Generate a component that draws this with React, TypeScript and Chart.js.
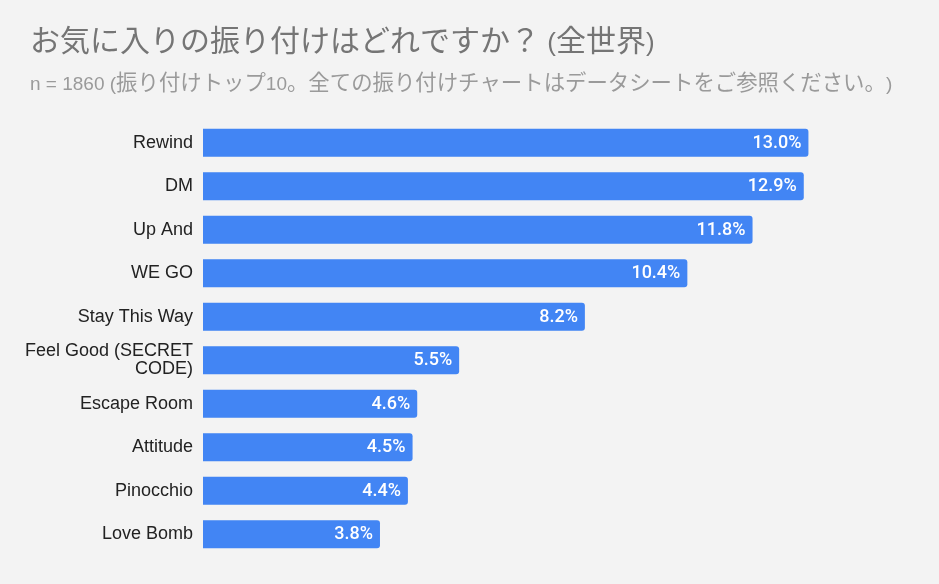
import React, { useEffect, useRef } from "react";
import { Chart, registerables } from "chart.js";

Chart.register(...registerables);

const TITLE = "お気に入りの振り付けはどれですか？ (全世界)";
const SUBTITLE =
  "n = 1860 (振り付けトップ10。全ての振り付けチャートはデータシートをご参照ください。)";

const categories: (string | string[])[] = [
  "Rewind",
  "DM",
  "Up And",
  "WE GO",
  "Stay This Way",
  ["Feel Good (SECRET", "CODE)"],
  "Escape Room",
  "Attitude",
  "Pinocchio",
  "Love Bomb",
];

const shares = [13.0, 12.9, 11.8, 10.4, 8.2, 5.5, 4.6, 4.5, 4.4, 3.8];

const X_MAX = 14;

const CJK_RUN = /([\u3000-\u30ff\u4e00-\u9fff\uff00-\uffef]+)/;
const CJK_TEST = /[\u3000-\u30ff\u4e00-\u9fff\uff00-\uffef]/;

function drawMixed(
  ctx: CanvasRenderingContext2D,
  text: string,
  x: number,
  y: number,
  latinFont: string,
  cjkFont: string
) {
  const parts = text.split(CJK_RUN);
  let cx = x;
  for (const p of parts) {
    if (!p) continue;
    ctx.font = CJK_TEST.test(p) ? cjkFont : latinFont;
    ctx.fillText(p, cx, y);
    cx += ctx.measureText(p).width;
  }
}

const backgroundPlugin = {
  id: "bgFill",
  beforeDraw(chart: any) {
    const ctx = chart.ctx as CanvasRenderingContext2D;
    ctx.save();
    ctx.fillStyle = "#f3f3f3";
    ctx.fillRect(0, 0, chart.width, chart.height);
    ctx.restore();
  },
};

const headerPlugin = {
  id: "header",
  afterDraw(chart: any) {
    const ctx = chart.ctx as CanvasRenderingContext2D;
    ctx.save();
    ctx.textAlign = "left";
    ctx.textBaseline = "alphabetic";
    ctx.fillStyle = "#757575";
    drawMixed(
      ctx,
      TITLE,
      30,
      51,
      "26px 'Liberation Sans', Arial, sans-serif",
      "30px 'Noto Sans CJK JP', sans-serif"
    );
    ctx.fillStyle = "#9a9a9a";
    drawMixed(
      ctx,
      SUBTITLE,
      30,
      90,
      "19px 'Liberation Sans', Arial, sans-serif",
      "21.4px 'Noto Sans CJK JP', sans-serif"
    );
    ctx.restore();
  },
};

const valueLabelPlugin = {
  id: "valueLabels",
  afterDatasetsDraw(chart: any) {
    const ctx = chart.ctx as CanvasRenderingContext2D;
    const meta = chart.getDatasetMeta(0);
    const data = chart.data.datasets[0].data as number[];
    ctx.save();
    ctx.fillStyle = "#ffffff";
    ctx.font = "500 18px Roboto, sans-serif";
    ctx.textAlign = "right";
    ctx.textBaseline = "middle";
    meta.data.forEach((bar: any, i: number) => {
      ctx.fillText(data[i].toFixed(1) + "%", bar.x - 7, bar.y + 0.5);
    });
    ctx.restore();
  },
};

export default function App() {
  const canvasRef = useRef<HTMLCanvasElement | null>(null);

  useEffect(() => {
    document.body.style.margin = "0";
    document.body.style.background = "#f3f3f3";
    const canvas = canvasRef.current;
    if (!canvas) return;
    const chart = new Chart(canvas, {
      type: "bar",
      data: {
        labels: categories as any,
        datasets: [
          {
            data: shares,
            backgroundColor: "#4285f4",
            borderRadius: 3,
            borderSkipped: "start",
            barPercentage: 0.64,
            categoryPercentage: 1,
          },
        ],
      },
      options: {
        indexAxis: "y",
        responsive: false,
        animation: false,
        layout: { padding: { left: 0, right: 84, top: 121, bottom: 28 } },
        plugins: {
          legend: { display: false },
          title: { display: false },
          tooltip: { enabled: false },
        },
        scales: {
          x: { display: false, min: 0, max: X_MAX },
          y: {
            grid: { display: false, drawTicks: false },
            border: { display: false },
            ticks: {
              color: "#222222",
              padding: 10,
              autoSkip: false,
              font: {
                family: "Arial, 'Liberation Sans', sans-serif",
                size: 18,
                lineHeight: 1,
              },
            },
            afterFit: (scale: any) => {
              scale.width = 203;
            },
          },
        },
      } as any,
      plugins: [backgroundPlugin, headerPlugin, valueLabelPlugin],
    });
    return () => chart.destroy();
  }, []);

  return (
    <div style={{ width: 939, height: 584, background: "#f3f3f3" }}>
      <canvas
        ref={canvasRef}
        width={939}
        height={584}
        style={{ display: "block", width: 939, height: 584 }}
      />
    </div>
  );
}
